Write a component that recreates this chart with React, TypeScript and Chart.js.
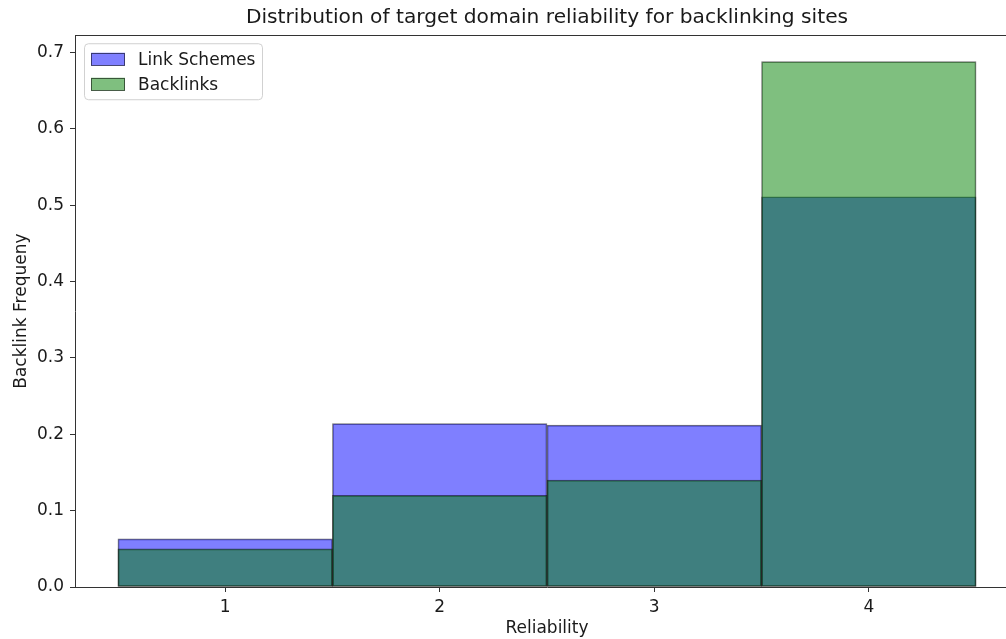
import React, { useEffect, useRef } from "react";
import { Chart, registerables } from "chart.js";

Chart.register(...registerables);

const bins = [1, 2, 3, 4];
const linkSchemes = [0.063, 0.214, 0.212, 0.511];
const backlinks = [0.05, 0.12, 0.14, 0.688];
const yTickValues = [0, 0.1, 0.2, 0.3, 0.4, 0.5, 0.6, 0.7];
const seriesLabels = ["Link Schemes", "Backlinks"];
const titleText = "Distribution of target domain reliability for backlinking sites";
const xTitle = "Reliability";
const yTitle = "Backlink Frequeny";

const FONT = "'DejaVu Sans', 'Liberation Sans', sans-serif";
const TEXT = "#1a1a1a";
const SPINE = "#333333";

const boxLegendPlugin = {
  id: "boxLegend",
  afterDraw(chart: any) {
    const { ctx, chartArea } = chart;
    ctx.save();
    // top spine
    ctx.strokeStyle = SPINE;
    ctx.lineWidth = 1;
    ctx.beginPath();
    ctx.moveTo(chartArea.left, Math.round(chartArea.top) + 0.5);
    ctx.lineTo(chartArea.right, Math.round(chartArea.top) + 0.5);
    ctx.stroke();

    // legend box
    const left = chartArea.left + 9;
    const top = chartArea.top + 8;
    const w = 178;
    const h = 56;
    ctx.beginPath();
    (ctx as any).roundRect(left + 0.5, top + 0.5, w, h, 4);
    ctx.fillStyle = "rgba(255,255,255,0.8)";
    ctx.fill();
    ctx.strokeStyle = "rgba(204,204,204,0.9)";
    ctx.stroke();

    const datasets = chart.data.datasets;
    datasets.forEach((ds: any, i: number) => {
      const cy = top + 16 + i * 25;
      const px = left + 7;
      ctx.fillStyle = ds.backgroundColor;
      ctx.fillRect(px, cy - 6.5, 34, 13);
      ctx.strokeStyle = ds.borderColor;
      ctx.lineWidth = 1;
      ctx.strokeRect(px + 0.5, Math.round(cy - 6.5) + 0.5, 33, 12);
      ctx.fillStyle = TEXT;
      ctx.font = `17px ${FONT}`;
      ctx.textBaseline = "middle";
      ctx.textAlign = "left";
      ctx.fillText(ds.label, left + 54, cy + 1);
    });
    ctx.restore();
  },
};

export default function App() {
  const ref = useRef<HTMLCanvasElement | null>(null);

  useEffect(() => {
    if (!ref.current) return;
    const chart = new Chart(ref.current, {
      type: "bar",
      data: {
        datasets: [
          {
            label: seriesLabels[0],
            data: bins.map((b, i) => ({ x: b, y: linkSchemes[i] })),
            backgroundColor: "rgba(0,0,255,0.5)",
            borderColor: "rgba(0,0,0,0.55)",
            borderWidth: 1,
            borderSkipped: false,
            order: 2,
          },
          {
            label: seriesLabels[1],
            data: bins.map((b, i) => ({ x: b, y: backlinks[i] })),
            backgroundColor: "rgba(0,128,0,0.5)",
            borderColor: "rgba(0,0,0,0.55)",
            borderWidth: 1,
            borderSkipped: false,
            order: 1,
          },
        ],
      } as any,
      options: {
        responsive: false,
        animation: false,
        devicePixelRatio: 1,
        layout: { padding: { left: 0, right: 1, top: 0, bottom: 0 } },
        datasets: {
          bar: {
            grouped: false,
            barPercentage: 1,
            categoryPercentage: 1,
          } as any,
        },
        plugins: {
          legend: { display: false },
          tooltip: { enabled: false },
          title: {
            display: true,
            text: titleText,
            fullSize: false,
            color: TEXT,
            font: { family: FONT, size: 20.2, weight: "normal" as any },
            padding: { top: 6, bottom: 5 },
          },
        },
        scales: {
          x: {
            type: "linear",
            min: 0.3,
            max: 4.7,
            offset: false,
            afterFit: (s: any) => {
              s.height = 52;
            },
            afterBuildTicks: (s: any) => {
              s.ticks = bins.map((v) => ({ value: v }));
            },
            ticks: {
              color: TEXT,
              font: { family: FONT, size: 17 },
              padding: 5,
              maxRotation: 0,
              callback: (v: any) => String(v),
            },
            grid: {
              offset: false,
              drawOnChartArea: false,
              drawTicks: true,
              tickLength: 5,
              color: SPINE,
            },
            border: { display: true, color: SPINE, width: 1 },
            title: {
              display: true,
              text: xTitle,
              color: TEXT,
              font: { family: FONT, size: 17 },
              padding: { top: 0, bottom: 0 },
            },
          },
          y: {
            type: "linear",
            min: 0,
            max: 0.7225,
            afterFit: (s: any) => {
              s.width = 75;
            },
            afterBuildTicks: (s: any) => {
              s.ticks = yTickValues.map((v) => ({ value: v }));
            },
            ticks: {
              color: TEXT,
              font: { family: FONT, size: 17 },
              padding: 6,
              callback: (v: any) => Number(v).toFixed(1),
            },
            grid: {
              drawOnChartArea: false,
              drawTicks: true,
              tickLength: 5,
              color: SPINE,
            },
            border: { display: true, color: SPINE, width: 1 },
            title: {
              display: true,
              text: yTitle,
              color: TEXT,
              font: { family: FONT, size: 17 },
              padding: { top: 11, bottom: 0 },
            },
          },
        },
      } as any,
      plugins: [boxLegendPlugin],
    });
    return () => chart.destroy();
  }, []);

  return (
    <div
      style={{
        position: "absolute",
        left: 0,
        top: 0,
        width: 1006,
        height: 639,
        overflow: "hidden",
        background: "#fff",
      }}
    >
      <canvas ref={ref} width={1020} height={639} style={{ display: "block" }} />
    </div>
  );
}
